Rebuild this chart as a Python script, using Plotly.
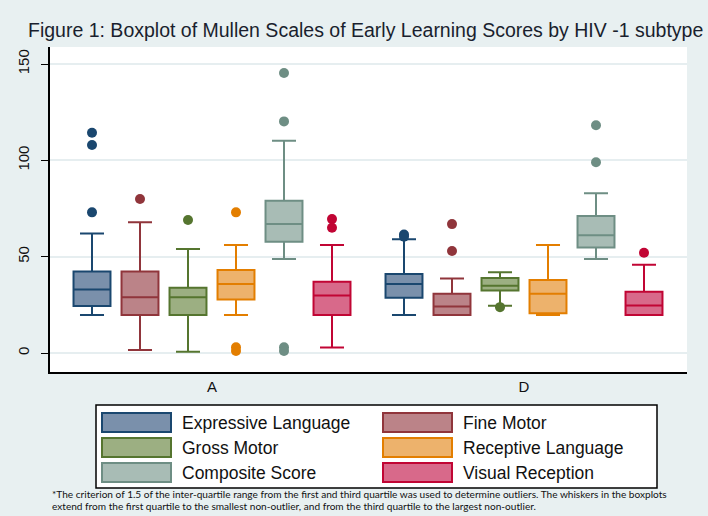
import plotly.graph_objects as go

# ---------------- data ----------------
groups = ["A", "D"]
measures = ["Expressive Language", "Fine Motor", "Gross Motor",
            "Receptive Language", "Composite Score", "Visual Reception"]

# order of values follows `measures`
lower_A = [19.7, 1.6, 0.7, 19.7, 48.8, 2.8]
q1_A = [24.4, 19.7, 19.7, 27.8, 57.8, 19.7]
median_A = [33.0, 28.9, 28.9, 35.8, 66.9, 29.9]
q3_A = [42.3, 42.3, 33.9, 43.1, 79.0, 37.0]
upper_A = [62.0, 67.8, 54.0, 56.0, 110.2, 56.0]
outliers_A = [[114.3, 108.0, 73.0], [79.9], [69.0], [73.0, 3.0, 1.0],
              [145.3, 120.2, 3.0, 1.0], [69.5, 65.0]]

lower_D = [19.7, 19.7, 24.5, 19.7, 48.8, 19.7]
q1_D = [28.7, 19.7, 32.5, 20.6, 54.8, 19.7]
median_D = [35.8, 24.1, 34.9, 30.8, 61.1, 24.7]
q3_D = [41.0, 30.8, 38.9, 37.9, 71.1, 31.8]
upper_D = [59.0, 38.7, 41.9, 56.0, 82.9, 45.8]
outliers_D = [[61.5, 60.3], [66.9, 52.9], [23.8], [], [118.2, 99.0], [52.0]]

y_ticks = [0, 50, 100, 150]

title_text = "Figure 1: Boxplot of Mullen Scales of Early Learning Scores by HIV -1 subtype"
footnote_lines = [
    "*The criterion of 1.5 of the inter-quartile range from the first and third quartile was used to determine outliers. The whiskers in the boxplots",
    "extend from the first quartile to the smallest non-outlier, and from the third quartile to the largest non-outlier.",
]

# ---------------- styles ----------------
line_colors = ["#1a476f", "#90353b", "#55752f", "#e37e00", "#6e8e84", "#c10534"]
fill_colors = ["#7a90ab", "#bb8388", "#9caf82", "#edb26c", "#a8bcb5", "#d8698a"]
BG = "rgb(232,240,241)"
GRID = "rgb(230,238,240)"

W, H = 708, 516
L, R, T, B = 50, 687, 47, 372  # plot area in pixels

group_gap = 6.5
box_w = 0.77

stats = {
    "A": (lower_A, q1_A, median_A, q3_A, upper_A, outliers_A),
    "D": (lower_D, q1_D, median_D, q3_D, upper_D, outliers_D),
}

fig = go.Figure()
for gi, g in enumerate(groups):
    lo, q1, md, q3, up, outs = stats[g]
    center = gi * group_gap
    for mi, m in enumerate(measures):
        xpos = center + (mi - 2.5)
        fig.add_trace(go.Box(
            x=[xpos], q1=[q1[mi]], median=[md[mi]], q3=[q3[mi]],
            lowerfence=[lo[mi]], upperfence=[up[mi]],
            width=box_w, whiskerwidth=0.65,
            line=dict(color=line_colors[mi], width=2),
            fillcolor=fill_colors[mi],
            boxpoints=False, showlegend=False, name=m, hoverinfo="skip",
        ))
        if outs[mi]:
            fig.add_trace(go.Scatter(
                x=[xpos] * len(outs[mi]), y=outs[mi], mode="markers",
                marker=dict(color=line_colors[mi], size=10, line=dict(width=0)),
                showlegend=False, name=m, hoverinfo="skip",
            ))

x_lo = -3.375
x_hi = x_lo + (R - L) / 48.0
px_per_unit = (353 - 64) / 150.0
y_lo = -(B - 353) / px_per_unit
y_hi = (353 - T) / px_per_unit


def px(x):
    return (x - L) / (R - L)


def py(y):
    return (B - y) / (B - T)


shapes = []
annotations = []

# legend box
shapes.append(dict(type="rect", xref="paper", yref="paper",
                   x0=px(96), x1=px(657), y0=py(488), y1=py(405),
                   fillcolor="white", line=dict(color="black", width=1.5), layer="above"))
col_x = [102, 383]
row_y = [413, 438, 463]
sw_w, sw_h = 69, 19
for mi, m in enumerate(measures):
    c = mi % 2
    r = mi // 2
    x0 = col_x[c]
    y0 = row_y[r]
    shapes.append(dict(type="rect", xref="paper", yref="paper",
                       x0=px(x0), x1=px(x0 + sw_w), y0=py(y0 + sw_h), y1=py(y0),
                       fillcolor=fill_colors[mi], line=dict(color=line_colors[mi], width=2),
                       layer="above"))
    annotations.append(dict(text=m, xref="paper", yref="paper",
                            x=px(x0 + sw_w + 9), y=py(y0 + sw_h / 2),
                            xanchor="left", yanchor="middle", showarrow=False,
                            font=dict(family="Liberation Sans, Arial", size=17.5, color="#111111")))

# footnote
for i, line in enumerate(footnote_lines):
    annotations.append(dict(text=line, xref="paper", yref="paper",
                            x=px(50), y=py(494 + i * 12),
                            xanchor="left", yanchor="middle", showarrow=False,
                            font=dict(family="Lato, Arial", size=10.1, color="#111111")))

fig.update_layout(
    width=W, height=H,
    margin=dict(l=L, r=W - R, t=T, b=H - B, pad=0),
    paper_bgcolor=BG, plot_bgcolor="white",
    title=dict(text=title_text, x=28 / W, xanchor="left", y=1 - 30 / H, yanchor="middle",
               font=dict(family="Liberation Sans, Arial", size=19.5, color="#1a1f2e")),
    xaxis=dict(range=[x_lo, x_hi], tickvals=[i * group_gap for i in range(len(groups))],
               ticktext=groups, showgrid=False, zeroline=False, showline=True,
               linecolor="black", linewidth=1.5, ticks="", mirror=False,
               tickfont=dict(family="Liberation Sans, Arial", size=15, color="#111111")),
    yaxis=dict(range=[y_lo, y_hi], tickvals=y_ticks, showgrid=True, gridcolor=GRID,
               gridwidth=1.5, zeroline=False, showline=True, linecolor="black",
               linewidth=1.5, ticks="outside", ticklen=7, tickcolor="black",
               tickangle=-90, ticklabelstandoff=6,
               tickfont=dict(family="Liberation Sans, Arial", size=15, color="#111111")),
    shapes=shapes, annotations=annotations,
    showlegend=False,
)

fig.write_html("out.html", config={"displayModeBar": False},
               post_script="document.body.style.margin='0px';document.body.style.background='rgb(232,240,241)';")
